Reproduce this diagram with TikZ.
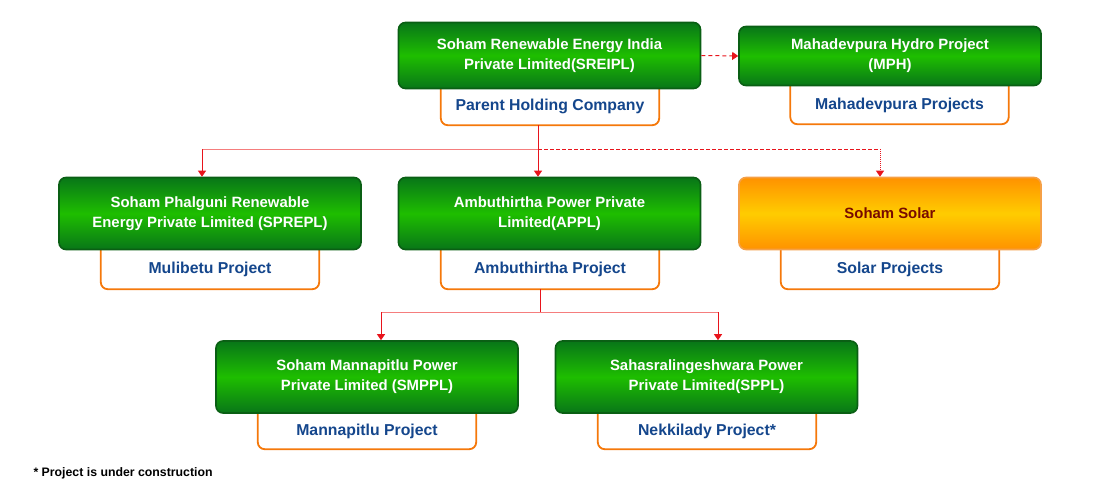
\documentclass[tikz,border=0pt]{standalone}
\usepackage{fontspec}
\setmainfont{Liberation Sans}
\usetikzlibrary{arrows.meta,calc}
\definecolor{gdark}{RGB}{10,95,20}
\definecolor{gtop}{RGB}{8,118,24}
\definecolor{gmid}{RGB}{30,190,0}
\definecolor{otop}{RGB}{255,146,0}
\definecolor{omid}{RGB}{255,204,0}
\definecolor{oline}{RGB}{245,160,70}
\definecolor{subline}{RGB}{245,120,10}
\definecolor{subtext}{RGB}{20,70,140}
\definecolor{linkred}{RGB}{232,20,28}
\definecolor{linklight}{RGB}{245,125,125}
\definecolor{solartext}{RGB}{120,10,0}

\begin{document}
\begin{tikzpicture}[x=1pt,y=-1pt,
  company/.style={rectangle,rounded corners=7,draw=gdark,line width=1.6,
    top color=gtop,bottom color=gtop,middle color=gmid,text=white,
    font=\bfseries\fontsize{14.9}{20}\selectfont,align=center,
    minimum width=302,minimum height=72,inner sep=0},
  solar/.style={company,draw=oline,top color=otop,bottom color=otop,
    middle color=omid,text=solartext},
  project/.style={rectangle,text=subtext,inner sep=0,
    font=\bfseries\fontsize{15.8}{18}\selectfont,minimum width=218,minimum height=38,
    append after command={\pgfextra{\draw[subline,line width=1.8,rounded corners=7]
      (\tikzlastnode.north west) |- (\tikzlastnode.south) -| (\tikzlastnode.north east);}}},
  feed/.style={draw=linkred,line width=1},
  arrowed/.style={-{Triangle[width=8,length=6]}},
]
\useasboundingbox (0,0) rectangle (1100,490);

% top row
\node[project] (parent) at (550,106) {Parent Holding Company};
\node[company,minimum height=66] (sreipl) at (549.5,55.5)
  {Soham Renewable Energy India\\Private Limited(SREIPL)};
\node[project] (mahadev) at (899.5,105) {Mahadevpura Projects};
\node[company,minimum height=59] (mph) at (890,56)
  {Mahadevpura Hydro Project\\(MPH)};

% middle row
\node[project,minimum height=40] (mulibetu) at (210,269) {Mulibetu Project};
\node[company] (sprepl) at (210,213.5)
  {Soham Phalguni Renewable\\Energy Private Limited (SPREPL)};
\node[project,minimum height=40] (ambu) at (550,269) {Ambuthirtha Project};
\node[company] (appl) at (549.5,213.5)
  {Ambuthirtha Power Private\\Limited(APPL)};
\node[project,minimum height=40] (solarproj) at (890,269) {Solar Projects};
\node[solar] (solar) at (890,213.5) {Soham Solar};

% bottom row
\node[project,minimum height=36] (manna) at (367,431) {Mannapitlu Project};
\node[company] (smppl) at (367,377)
  {Soham Mannapitlu Power\\Private Limited (SMPPL)};
\node[project,minimum height=36] (nekki) at (707,431) {Nekkilady Project*};
\node[company] (sppl) at (706.5,377)
  {Sahasralingeshwara Power\\Private Limited(SPPL)};

\node[anchor=west,font=\bfseries\fontsize{12.3}{14}\selectfont] (note) at (30,473)
  {* Project is under construction};

% links
\draw[feed,arrowed,dash pattern=on 4pt off 3pt] (sreipl.east) -- (mph.west);

\coordinate (split) at ($(parent.south)+(-12,24)$);
\coordinate (ltip) at ($(sprepl.north)+(-8,0)$);
\coordinate (rtip) at ($(solar.north)+(-10,0)$);
\draw[feed,arrowed] (parent.south -| split) -- (appl.north -| split);
\draw[feed,draw=linklight] (split) -- (split -| ltip);
\draw[feed,arrowed] (split -| ltip) -- (ltip);
\draw[feed,dash pattern=on 4pt off 2pt] (split) -- (split -| rtip);
\draw[feed,arrowed,densely dotted] (split -| rtip) -- (rtip);

\coordinate (split2) at ($(ambu.south)+(-10,23)$);
\coordinate (mtip) at ($(smppl.north)+(14,0)$);
\coordinate (stip) at ($(sppl.north)+(11.5,0)$);
\draw[feed] (ambu.south -| split2) -- (split2);
\draw[feed,draw=linklight] (split2 -| mtip) -- (split2 -| stip);
\draw[feed,arrowed] (split2 -| mtip) -- (mtip);
\draw[feed,arrowed] (split2 -| stip) -- (stip);
\end{tikzpicture}
\end{document}
